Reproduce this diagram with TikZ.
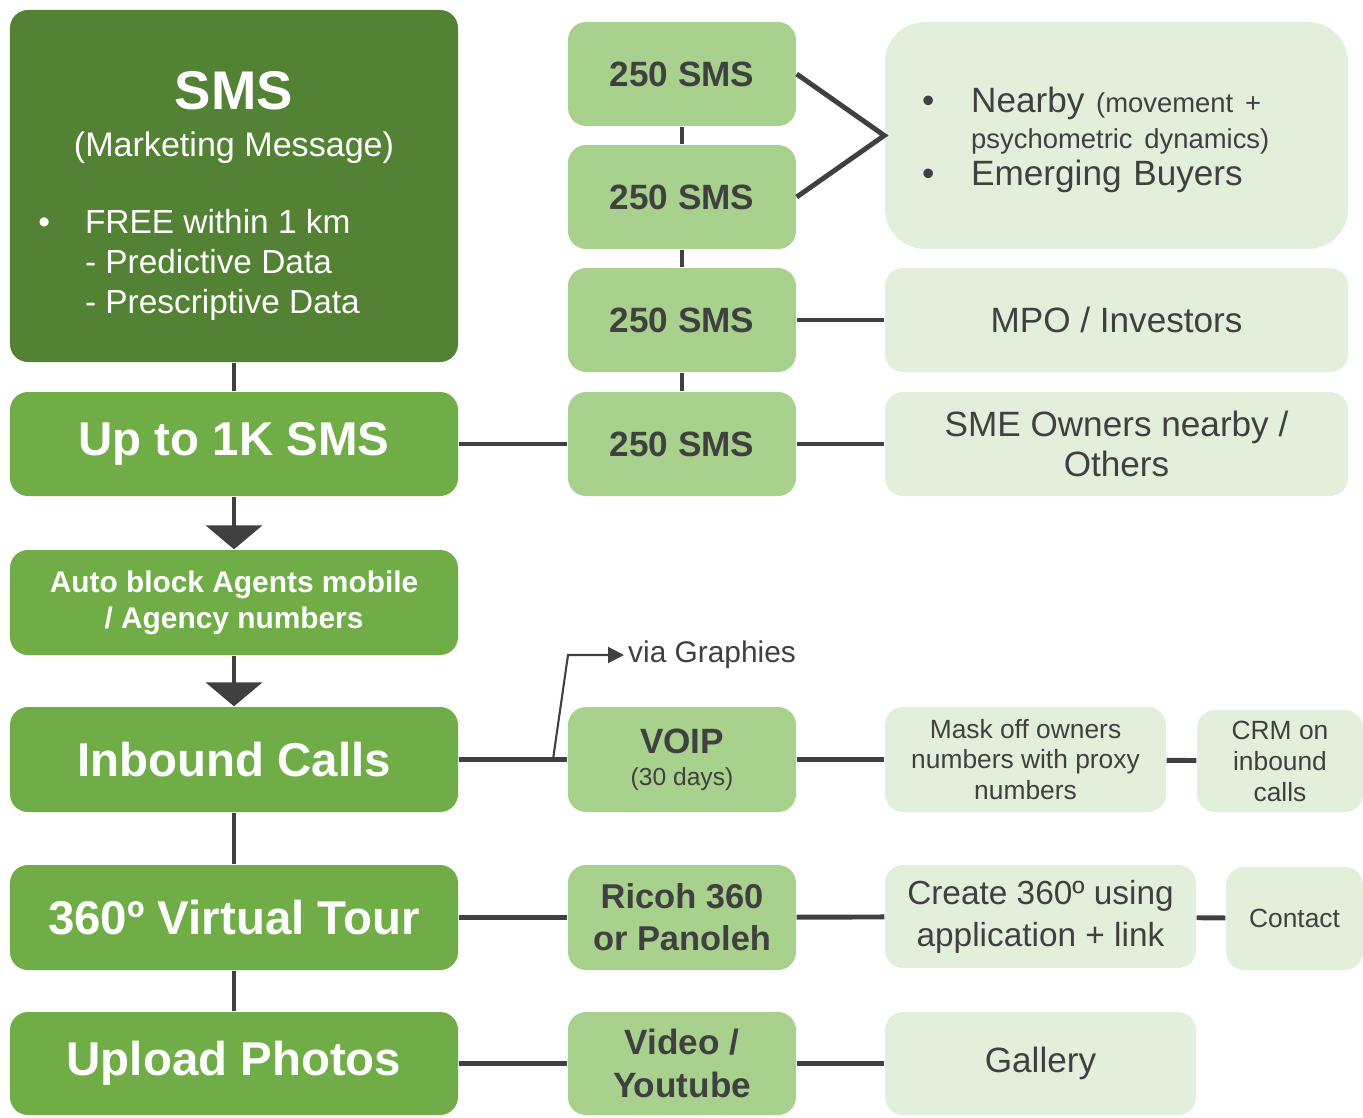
\documentclass[tikz,border=0pt]{standalone}
\usepackage{fontspec}
\setmainfont{Liberation Sans}
\usepackage{tikz}
\usetikzlibrary{arrows.meta}
\usepackage{xcolor}
\definecolor{darkgreen}{HTML}{548235}
\definecolor{midgreen}{HTML}{70AD47}
\definecolor{lightgreen}{HTML}{A9D18E}
\definecolor{palegreen}{HTML}{E2EFDA}
\definecolor{linegray}{HTML}{404040}
\tikzset{
    box/.style = {rounded corners = 0.18cm, inner sep = 0pt, align = center},
    leftbox/.style = {box, fill = midgreen, text = white, minimum width = 4.48cm, minimum height = 1.04cm, font = \fontsize{13.5}{16}\selectfont\bfseries},
    midbox/.style = {box, fill = lightgreen, text = linegray, minimum width = 2.28cm, minimum height = 1.04cm, font = \fontsize{10}{12}\selectfont\bfseries},
    rightbox/.style = {box, fill = palegreen, text = linegray, minimum height = 1.04cm, font = \fontsize{10}{11.4}\selectfont},
    link/.style = {draw = linegray, line width = 1.4pt},
    bigtip/.style = {-{Triangle[width = 5.6mm, length = 2.4mm]}}
}

\begin{document}
\begin{tikzpicture}
        \useasboundingbox (0, 0) rectangle (13.63, -11.17);
        \node[leftbox, fill = darkgreen, minimum height = 3.52cm, font = \fontsize{9.5}{11.4}\selectfont] (sms) at (2.34, -1.86) {\rule{0pt}{18pt}{\fontsize{15.5}{18}\selectfont\bfseries SMS}\\[2pt]
            {\fontsize{9.7}{12}\selectfont (Marketing Message)}\\[11pt]
            \begin{tabular}{@{}l@{\hspace{10pt}}l@{}}
                \textbullet & FREE within 1 km\\
                & - Predictive Data\\
                & - Prescriptive Data
            \end{tabular}\rule{0.7cm}{0pt}};
        \node[leftbox] (upto) at (2.34, -4.44) {Up to 1K SMS};
        \node[leftbox, minimum height = 1.05cm, font = \fontsize{8.5}{10.2}\selectfont\bfseries] (agents) at (2.34, -6.025) {Auto block Agents mobile\\/ Agency numbers};
        \node[leftbox, minimum height = 1.05cm] (inbound) at (2.34, -7.595) {Inbound Calls};
        \node[leftbox, minimum height = 1.05cm] (tour) at (2.34, -9.175) {360º Virtual Tour};
        \node[leftbox, minimum height = 1.03cm] (upload) at (2.34, -10.635) {Upload Photos};

        \node[midbox] (sms1) at (6.82, -0.74) {250 SMS};
        \node[midbox] (sms2) at (6.82, -1.97) {250 SMS};
        \node[midbox] (sms3) at (6.82, -3.20) {250 SMS};
        \node[midbox] (sms4) at (6.82, -4.44) {250 SMS};
        \node[midbox, minimum height = 1.05cm] (voip) at (6.82, -7.595) {VOIP\\[-3pt]{\fontsize{7}{8.4}\selectfont\mdseries (30 days)}};
        \node[midbox, minimum height = 1.05cm, font = \fontsize{9.8}{12}\selectfont\bfseries] (ricoh) at (6.82, -9.175) {Ricoh 360\\or Panoleh};
        \node[midbox, minimum height = 1.03cm] (video) at (6.82, -10.635) {Video /\\Youtube};

        \node[rightbox, rounded corners = 0.4cm, minimum width = 4.63cm, minimum height = 2.27cm, text width = 3.89cm, align = left, font = \fontsize{10}{10.4}\selectfont] (nearby) at (11.165, -1.355) {\begin{tabular}{@{}l@{\hspace{10.5pt}}l@{}}
                \textbullet & \rule{0pt}{10.8pt}Nearby {\fontsize{7.8}{9}\selectfont (movement +}\\
                & {\fontsize{7.8}{9}\selectfont psychometric dynamics)}\\
                \textbullet & Emerging Buyers
            \end{tabular}};
        \node[rightbox, minimum width = 4.63cm] (mpo) at (11.165, -3.20) {MPO / Investors};
        \node[rightbox, minimum width = 4.63cm] (sme) at (11.165, -4.44) {SME Owners nearby /\\Others};
        \node[rightbox, minimum width = 2.81cm, minimum height = 1.05cm, font = \fontsize{7.5}{8.8}\selectfont] (mask) at (10.255, -7.595) {Mask off owners\\numbers with proxy\\numbers};
        \node[rightbox, minimum width = 1.66cm, minimum height = 1.02cm, font = \fontsize{7.5}{8.8}\selectfont] (crm) at (12.80, -7.61) {CRM on\\inbound\\calls};
        \node[rightbox, minimum width = 3.11cm, minimum height = 1.03cm, font = \fontsize{9.5}{12}\selectfont] (create) at (10.405, -9.165) {Create 360º using\\application + link};
        \node[rightbox, minimum width = 1.37cm, minimum height = 1.03cm, font = \fontsize{7.5}{9}\selectfont] (contact) at (12.945, -9.185) {Contact};
        \node[rightbox, minimum width = 3.11cm, minimum height = 1.03cm] (gallery) at (10.405, -10.635) {Gallery};

        \node[anchor = west, inner sep = 1pt, text = linegray, font = \fontsize{8.5}{10}\selectfont] (via) at (6.24, -6.55) {via Graphies};
        \coordinate (viafoot) at (5.53, -7.595);
        \coordinate (viabend) at (5.68, -6.55);

        \draw[link] (sms) -- (upto);
        \draw[link, bigtip] (upto) -- (agents);
        \draw[link, bigtip] (agents) -- (inbound);
        \draw[link] (inbound) -- (tour);
        \draw[link] (tour) -- (upload);

        \draw[link] (sms1) -- (sms2);
        \draw[link] (sms2) -- (sms3);
        \draw[link] (sms3) -- (sms4);
        \draw[link] (upto) -- (sms4);
        \draw[link] (sms4) -- (sme);
        \draw[link] (sms3) -- (mpo);
        \draw[link] (sms1.east) -- (nearby.west) -- (sms2.east);

        \draw[link] (inbound) -- (voip);
        \draw[link] (voip) -- (mask);
        \draw[link] (mask) -- (crm);
        \draw[linegray, line width = 0.6pt, -{Triangle[width = 1.6mm, length = 1.6mm]}] (viafoot) -- (viabend) -- (via.west);

        \draw[link] (tour) -- (ricoh);
        \draw[link] (ricoh) -- (create);
        \draw[link] (create) -- (contact);
        \draw[link] (upload) -- (video);
        \draw[link] (video) -- (gallery);
    \end{tikzpicture}
\end{document}
